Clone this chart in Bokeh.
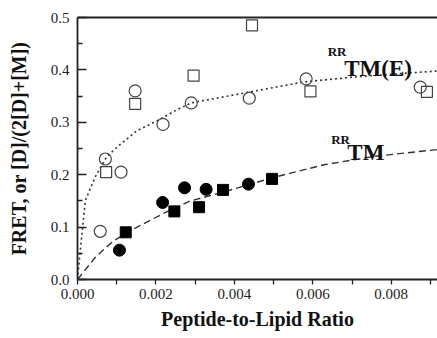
from bokeh.plotting import figure
from bokeh.models import (LinearAxis, FixedTicker, NumeralTickFormatter, Range1d)
from bokeh.core.properties import value
from bokeh.embed import file_html
from bokeh.resources import INLINE

# --- data ---
# RR-TM(E): open circles and open squares
tme_circle_x = [0.00058, 0.00071, 0.00111, 0.00147, 0.00218, 0.00290, 0.00438, 0.00583, 0.00874]
tme_circle_y = [0.092, 0.230, 0.205, 0.360, 0.296, 0.337, 0.346, 0.383, 0.367]
tme_square_x = [0.00073, 0.00147, 0.00296, 0.00445, 0.00594, 0.00891]
tme_square_y = [0.205, 0.335, 0.389, 0.485, 0.359, 0.358]
# RR-TM: filled circles and filled squares
tm_circle_x = [0.00107, 0.00217, 0.00273, 0.00328, 0.00436]
tm_circle_y = [0.056, 0.147, 0.175, 0.172, 0.182]
tm_square_x = [0.00123, 0.00247, 0.00310, 0.00371, 0.00496]
tm_square_y = [0.090, 0.130, 0.138, 0.171, 0.192]
# fitted curves
fit_tme_x = [0.0, 0.00008, 0.0002, 0.00046, 0.00075, 0.00109, 0.00152, 0.00203,
             0.00254, 0.00290, 0.0044, 0.00577, 0.00713, 0.00918]
fit_tme_y = [0.0, 0.062, 0.151, 0.197, 0.235, 0.258, 0.284, 0.303,
             0.324, 0.337, 0.358, 0.377, 0.387, 0.398]
fit_tm_x = [0.0, 0.00045, 0.00092, 0.00152, 0.00219, 0.00288, 0.00373, 0.00501,
            0.00629, 0.00757, 0.00918]
fit_tm_y = [0.0, 0.042, 0.074, 0.100, 0.126, 0.150, 0.167, 0.195,
            0.219, 0.235, 0.248]
x_major = [0.0, 0.002, 0.004, 0.006, 0.008]
x_minor = [0.001, 0.003, 0.005, 0.007, 0.009]
y_major = [0.0, 0.1, 0.2, 0.3, 0.4, 0.5]
y_minor = [0.05, 0.15, 0.25, 0.35, 0.45]

SERIF = "Liberation Serif"

p = figure(width=437, height=338, output_backend="svg", toolbar_location=None,
           x_range=Range1d(0, 0.00918), y_range=Range1d(0, 0.5),
           x_axis_location=None, y_axis_location=None)
p.min_border_left = 77
p.min_border_right = 0
p.min_border_top = 17
p.min_border_bottom = 59
p.outline_line_color = None
p.grid.visible = False
p.background_fill_color = "white"
p.border_fill_color = "white"

xaxis = LinearAxis(ticker=FixedTicker(ticks=x_major, minor_ticks=x_minor),
                   formatter=NumeralTickFormatter(format="0.000"),
                   axis_label="Peptide-to-Lipid Ratio")
yaxis = LinearAxis(ticker=FixedTicker(ticks=y_major, minor_ticks=y_minor),
                   formatter=NumeralTickFormatter(format="0.0"),
                   axis_label="FRET, or [D]/(2[D]+[M])")
for ax in (xaxis, yaxis):
    ax.axis_line_width = 1.8
    ax.axis_line_color = "#222222"
    ax.major_tick_line_color = "#222222"
    ax.minor_tick_line_color = "#222222"
    ax.major_tick_line_width = 1.3
    ax.minor_tick_line_width = 1.3
    ax.major_label_text_font = SERIF
    ax.major_label_text_font_size = "15px"
    ax.major_label_text_color = "#222222"
    ax.axis_label_text_font = SERIF
    ax.axis_label_text_font_style = "bold"
    ax.axis_label_text_font_size = "20px"
    ax.axis_label_text_color = "#111111"

xaxis.major_tick_in = 0
xaxis.major_tick_out = 5
xaxis.minor_tick_in = 0
xaxis.minor_tick_out = 5
xaxis.major_label_standoff = 4
xaxis.axis_label_standoff = 6

yaxis.major_tick_in = 9
yaxis.major_tick_out = 0
yaxis.minor_tick_in = 5
yaxis.minor_tick_out = 0
yaxis.major_label_standoff = 8
yaxis.axis_label_standoff = 18

top = LinearAxis(ticker=FixedTicker(ticks=[]), major_label_text_font_size="0px",
                 axis_line_width=1.8, axis_line_color="#222222",
                 major_tick_line_color=None, minor_tick_line_color=None)

p.add_layout(xaxis, "below")
p.add_layout(yaxis, "left")
p.add_layout(top, "above")

# curves
p.line(fit_tme_x, fit_tme_y, line_color="#333333", line_width=1.6, line_dash="2 3")
p.line(fit_tm_x, fit_tm_y, line_color="#333333", line_width=1.4, line_dash="7 4")

# markers
p.scatter(tme_circle_x, tme_circle_y, marker="circle", size=12, fill_color=None,
          line_color="#444444", line_width=1.2)
p.scatter(tme_square_x, tme_square_y, marker="square", size=11, fill_color=None,
          line_color="#444444", line_width=1.2)
p.scatter(tm_circle_x, tm_circle_y, marker="circle", size=12, fill_color="black",
          line_color="black")
p.scatter(tm_square_x, tm_square_y, marker="square", size=11, fill_color="black",
          line_color="black")

# series labels
p.text(x=[0.00638], y=[0.436], text=["RR"], text_font=value(SERIF),
       text_font_style="bold", text_font_size="13px", text_baseline="alphabetic",
       text_align="left", text_color="#111111")
p.text(x=[0.00680], y=[0.403], text=["TM(E)"], text_font=value(SERIF),
       text_font_style="bold", text_font_size="23px", text_baseline="alphabetic",
       text_align="left", text_color="#111111")
p.text(x=[0.00647], y=[0.268], text=["RR"], text_font=value(SERIF),
       text_font_style="bold", text_font_size="13px", text_baseline="alphabetic",
       text_align="left", text_color="#111111")
p.text(x=[0.00688], y=[0.2418], text=["TM"], text_font=value(SERIF),
       text_font_style="bold", text_font_size="23px", text_baseline="alphabetic",
       text_align="left", text_color="#111111")

open("out.html", "w").write(file_html(p, INLINE))
